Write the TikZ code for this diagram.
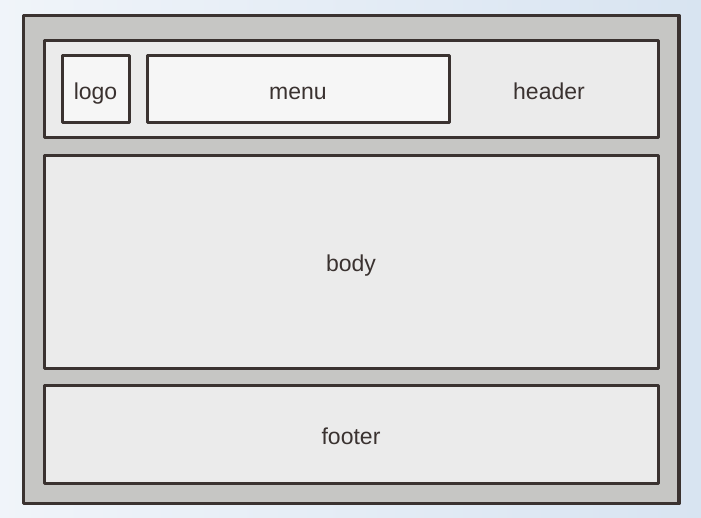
\documentclass[tikz,border=0pt]{standalone}
\usepackage{fontspec}
\setmainfont{Liberation Sans}
\definecolor{nen}{HTML}{E6EDF6}
\definecolor{nenphai}{HTML}{D8E4F1}
\definecolor{khung}{HTML}{C6C6C4}
\definecolor{hop}{HTML}{EBEBEB}
\definecolor{hopsang}{HTML}{F6F6F6}
\definecolor{vien}{HTML}{3A3230}
\begin{document}
\begin{tikzpicture}[x=1pt, y=-1pt, font=\fontsize{23}{26}\selectfont, line join=round,
	vung/.style={draw=vien, fill=hop, line width=3pt, inner sep=0pt, text=vien, text height=20pt, text depth=0pt},
	o/.style={vung, fill=hopsang}]
	\useasboundingbox (0,0) rectangle (701,518);
	\shade[left color=nen!60!white, right color=nenphai] (0,0) rectangle (701,518); % nen
	\def\rong{614} % chieu rong cac vung
	\draw[vien, fill=khung, line width=3.4pt] (23.5,15.5) rectangle (679,503.5);
	\node[vung, minimum width=\rong, minimum height=97] (header) at (351,89.5) {};
	\node[o, minimum width=67, minimum height=67] (logo) at (95.5,89.5) {logo};
	\node[o, minimum width=302, minimum height=67] (menu) at (298,89.5) {menu};
	\node[text=vien, inner sep=0pt, text height=20pt, text depth=0pt] (nhan) at (549,89.5) {header};
	\node[vung, minimum width=\rong, minimum height=212] (body) at (351,262) {body};
	\node[vung, minimum width=\rong, minimum height=98] (footer) at (351,434) {footer};
\end{tikzpicture}
\end{document}
